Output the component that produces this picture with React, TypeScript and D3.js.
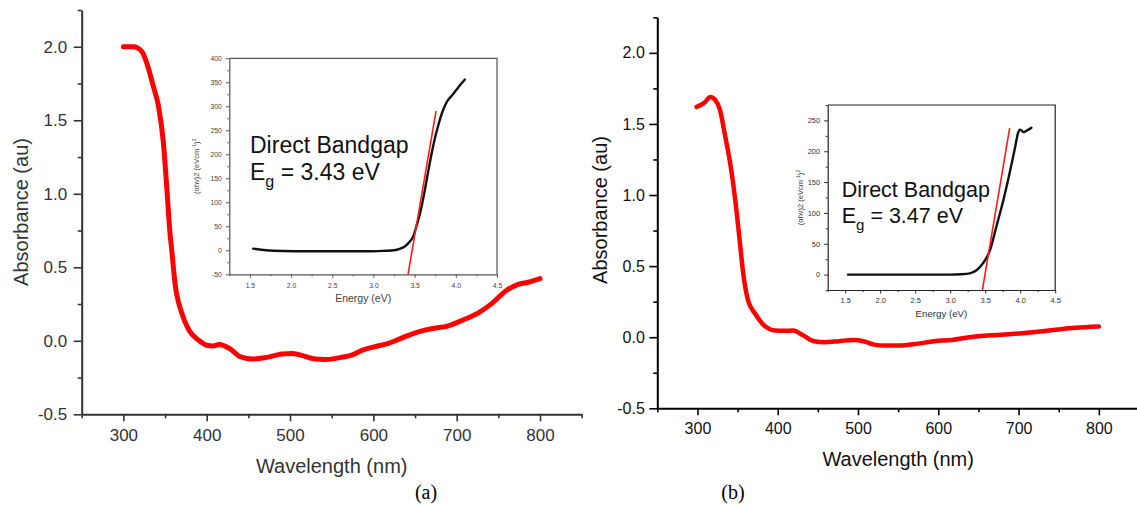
import { useEffect, useRef } from "react";
import * as d3 from "d3";

// ---- panel (a) main spectrum ----
const wavelengthA = [300, 312, 322, 328, 336, 342, 348, 352, 356, 358, 362, 370, 379, 390, 400, 408, 415, 428, 441, 455, 472, 490, 503, 517, 530, 543, 561, 574, 587, 601, 618, 636, 654, 672, 689, 707, 725, 742, 760, 773, 787, 800];
const absorbanceA = [2.0, 2.0, 1.97, 1.89, 1.73, 1.6, 1.35, 1.05, 0.73, 0.62, 0.39, 0.19, 0.07, 0.005, -0.03, -0.035, -0.025, -0.055, -0.11, -0.124, -0.113, -0.09, -0.086, -0.104, -0.124, -0.127, -0.113, -0.097, -0.063, -0.041, -0.018, 0.023, 0.061, 0.084, 0.1, 0.14, 0.186, 0.253, 0.344, 0.382, 0.4, 0.423];

// ---- panel (b) main spectrum ----
const wavelengthB = [299, 309, 316, 322, 328, 334, 340, 345, 349, 353, 357, 363, 372, 383, 397, 408, 419, 432, 445, 458, 476, 494, 507, 520, 533, 551, 573, 595, 617, 639, 661, 683, 705, 727, 749, 771, 800];
const absorbanceB = [1.62, 1.65, 1.69, 1.67, 1.6, 1.43, 1.25, 1.06, 0.87, 0.66, 0.45, 0.26, 0.165, 0.083, 0.047, 0.045, 0.047, 0.012, -0.028, -0.035, -0.028, -0.019, -0.028, -0.052, -0.059, -0.059, -0.047, -0.028, -0.019, 0.0, 0.012, 0.019, 0.028, 0.04, 0.054, 0.066, 0.075];

// ---- insets: Tauc plots ----
const energyA = [1.54, 1.7, 1.9, 2.2, 2.5, 2.8, 3.0, 3.15, 3.25, 3.32, 3.38, 3.43, 3.48, 3.53, 3.57, 3.62, 3.66, 3.71, 3.75, 3.79, 3.83, 3.89, 3.95, 4.01, 4.06, 4.11];
const taucA = [3.5, 0, -1.5, -2, -2, -2, -2, -1, 0, 3, 8, 16, 28, 55, 80, 122, 160, 205, 236, 262, 285, 309, 322, 335, 346, 356];
const fitEnergyA = [3.42, 3.76];
const fitTaucA = [-50, 290];

const energyB = [1.54, 2.0, 2.5, 3.0, 3.15, 3.28, 3.38, 3.47, 3.57, 3.66, 3.76, 3.85, 3.93, 3.97, 4.0, 4.05, 4.1, 4.16];
const taucB = [0, 0, 0, 0, 0.5, 2, 7.5, 18.5, 40, 78, 121, 165, 208, 230, 235, 231, 234, 238];
const fitEnergyB = [3.46, 3.85];
const fitTaucB = [-25, 238];

// ---- ticks ----
const wavelengthTicks = [300, 400, 500, 600, 700, 800];
const wavelengthMinor = [250, 350, 450, 550, 650, 750, 850];
const absTicks = [-0.5, 0, 0.5, 1.0, 1.5, 2.0];
const absMinor = [-0.25, 0.25, 0.75, 1.25, 1.75, 2.25];
const energyTicks = [1.5, 2.0, 2.5, 3.0, 3.5, 4.0, 4.5];
const energyMinor = [1.25, 1.75, 2.25, 2.75, 3.25, 3.75, 4.25];
const taucTicksA = [-50, 0, 50, 100, 150, 200, 250, 300, 350, 400];
const taucMinorA = [-25, 25, 75, 125, 175, 225, 275, 325, 375];
const taucTicksB = [0, 50, 100, 150, 200, 250];
const taucMinorB = [-25, 25, 75, 125, 175, 225, 275];

const SANS = "'Liberation Sans', Arial, sans-serif";

function axisPair(g, scale, orient, majors, minors, o) {
  const make = orient === "bottom" ? d3.axisBottom : d3.axisLeft;
  const minor = g
    .append("g")
    .call(make(scale).tickValues(minors).tickFormat(() => "").tickSize(o.minorSize).tickSizeOuter(0));
  minor.select(".domain").remove();
  const major = g
    .append("g")
    .call(make(scale).tickValues(majors).tickFormat(o.format).tickSize(o.majorSize).tickPadding(o.pad).tickSizeOuter(0));
  g.selectAll("line").attr("stroke", o.color).attr("stroke-width", o.tickWidth);
  major.select(".domain").attr("stroke", o.color).attr("stroke-width", o.lineWidth);
  major
    .selectAll("text")
    .attr("fill", o.textColor)
    .style("font-family", SANS)
    .style("font-size", o.fontSize + "px");
  return major;
}

function drawMain(svg, p) {
  const x = d3.scaleLinear([250, 850], p.xRange);
  const y = d3.scaleLinear([-0.5, 2.25], p.yRange);
  const fmt = (d) => d3.format(".1f")(d).replace("−", "-");

  const gx = svg.append("g").attr("transform", `translate(0,${p.yRange[0]})`);
  axisPair(gx, x, "bottom", wavelengthTicks, wavelengthMinor, {
    minorSize: 4, majorSize: 7, pad: p.xPad, format: d3.format("d"),
    color: p.axisColor, textColor: p.textColor, tickWidth: 1.6, lineWidth: 2, fontSize: p.tickFont,
  });
  const gy = svg.append("g").attr("transform", `translate(${p.xRange[0]},0)`);
  axisPair(gy, y, "left", absTicks, absMinor, {
    minorSize: 4, majorSize: 8, pad: p.yPad, format: fmt,
    color: p.axisColor, textColor: p.textColor, tickWidth: 1.6, lineWidth: 2, fontSize: p.tickFont,
  });

  const line = d3
    .line()
    .x((d) => x(d[0]))
    .y((d) => y(d[1]))
    .curve(d3.curveMonotoneX);
  svg
    .append("path")
    .datum(p.xs.map((v, i) => [v, p.ys[i]]))
    .attr("d", line)
    .attr("fill", "none")
    .attr("stroke", "#ff0000")
    .attr("stroke-width", p.lineWidth)
    .attr("stroke-linecap", "round")
    .attr("stroke-linejoin", "round");

  svg
    .append("text")
    .attr("x", (p.xRange[0] + p.xRange[1]) / 2)
    .attr("y", p.xTitleY)
    .attr("text-anchor", "middle")
    .attr("fill", p.textColor)
    .style("font-family", SANS)
    .style("font-size", "20px")
    .text("Wavelength (nm)");
  svg
    .append("text")
    .attr("transform", `translate(${p.yTitleX},${p.yTitleY}) rotate(-90)`)
    .attr("text-anchor", "middle")
    .attr("fill", p.textColor)
    .style("font-family", SANS)
    .style("font-size", "20px")
    .text("Absorbance (au)");
  svg
    .append("text")
    .attr("x", p.tagX)
    .attr("y", 499)
    .attr("text-anchor", "middle")
    .attr("fill", "#000")
    .style("font-family", "'Liberation Serif', 'Times New Roman', serif")
    .style("font-size", "20px")
    .text(p.tag);
}

function drawInset(svg, p) {
  const x = d3.scaleLinear([1.25, 4.5], p.xRange);
  const y = d3.scaleLinear(p.yDomain, p.yRange);

  // frame (top and right)
  svg
    .append("path")
    .attr("d", `M${p.xRange[0]},${p.yRange[1]}H${p.xRange[1]}V${p.yRange[0]}`)
    .attr("fill", "none")
    .attr("stroke", p.axisColor)
    .attr("stroke-width", 1.2);

  const gx = svg.append("g").attr("transform", `translate(0,${p.yRange[0]})`);
  axisPair(gx, x, "bottom", energyTicks, energyMinor, {
    minorSize: 2, majorSize: 3.5, pad: p.xPad, format: d3.format(".1f"),
    color: p.axisColor, textColor: p.textColor, tickWidth: 1, lineWidth: 1.2, fontSize: p.tickFont,
  });
  const gy = svg.append("g").attr("transform", `translate(${p.xRange[0]},0)`);
  axisPair(gy, y, "left", p.yTicks, p.yMinor, {
    minorSize: 2, majorSize: 3.5, pad: p.yPad, format: (d) => d3.format("d")(d).replace("−", "-"),
    color: p.axisColor, textColor: p.textColor, tickWidth: 1, lineWidth: 1.2, fontSize: p.tickFont,
  });

  const line = d3
    .line()
    .x((d) => x(d[0]))
    .y((d) => y(d[1]))
    .curve(d3.curveMonotoneX);
  svg
    .append("path")
    .datum(p.es.map((v, i) => [v, p.ts[i]]))
    .attr("d", line)
    .attr("fill", "none")
    .attr("stroke", "#111")
    .attr("stroke-width", 2.4)
    .attr("stroke-linecap", "round");
  svg
    .append("path")
    .datum(p.fitE.map((v, i) => [v, p.fitT[i]]))
    .attr("d", d3.line().x((d) => x(d[0])).y((d) => y(d[1])))
    .attr("fill", "none")
    .attr("stroke", "#ff1a1a")
    .attr("stroke-width", 1.6);

  svg
    .append("text")
    .attr("x", (p.xRange[0] + p.xRange[1]) / 2)
    .attr("y", p.eTitleY)
    .attr("text-anchor", "middle")
    .attr("fill", p.textColor)
    .style("font-family", SANS)
    .style("font-size", p.eTitleFont + "px")
    .text("Energy (eV)");

  const yl = svg
    .append("text")
    .attr("transform", `translate(${p.yTitleX},${(p.yRange[0] + p.yRange[1]) / 2}) rotate(-90)`)
    .attr("text-anchor", "middle")
    .attr("fill", p.textColor)
    .style("font-family", SANS)
    .style("font-size", p.yTitleFont + "px");
  yl.append("tspan").text("(αhν)2 (eVcm");
  yl.append("tspan").attr("baseline-shift", "super").style("font-size", "70%").text("-1");
  yl.append("tspan").text(")");
  yl.append("tspan").attr("baseline-shift", "super").style("font-size", "70%").text("2");

  const t1 = svg
    .append("text")
    .attr("x", p.labelX)
    .attr("y", p.labelY)
    .attr("fill", "#111")
    .style("font-family", SANS)
    .style("font-size", p.labelFont + "px");
  t1.text("Direct Bandgap");
  const t2 = svg
    .append("text")
    .attr("x", p.labelX)
    .attr("y", p.labelY + p.labelGap)
    .attr("fill", "#111")
    .style("font-family", SANS)
    .style("font-size", p.labelFont + "px");
  t2.append("tspan").text("E");
  t2.append("tspan").attr("dy", p.labelFont * 0.3).style("font-size", "70%").text("g");
  t2.append("tspan").attr("dy", -p.labelFont * 0.3).text(" = " + p.eg);
}

export default function App() {
  const ref = useRef(null);

  useEffect(() => {
    const svg = d3.select(ref.current);
    svg.selectAll("*").remove();

    drawMain(svg, {
      xs: wavelengthA, ys: absorbanceA,
      xRange: [81.7, 581.7], yRange: [414.3, 10],
      axisColor: "#333", textColor: "#333", tickFont: 17, xPad: 8, yPad: 6.5,
      lineWidth: 5, xTitleY: 473, yTitleX: 28, yTitleY: 212, tag: "(a)", tagX: 426,
    });
    drawMain(svg, {
      xs: wavelengthB, ys: absorbanceB,
      xRange: [657.3, 1139], yRange: [408.3, 17.3],
      axisColor: "#000", textColor: "#111", tickFont: 16, xPad: 7.5, yPad: 4.5,
      lineWidth: 4.5, xTitleY: 466, yTitleX: 607, yTitleY: 210, tag: "(b)", tagX: 733,
    });

    drawInset(svg, {
      es: energyA, ts: taucA, fitE: fitEnergyA, fitT: fitTaucA,
      xRange: [229.3, 497], yDomain: [-50, 400], yRange: [274.3, 58.3],
      yTicks: taucTicksA, yMinor: taucMinorA,
      axisColor: "#555", textColor: "#444", tickFont: 6.8, xPad: 5.5, yPad: 4,
      eTitleY: 302, eTitleFont: 10.5, yTitleX: 199, yTitleFont: 7.5,
      labelX: 250, labelY: 153, labelGap: 27, labelFont: 23, eg: "3.43 eV",
    });
    drawInset(svg, {
      es: energyB, ts: taucB, fitE: fitEnergyB, fitT: fitTaucB,
      xRange: [827.7, 1055.2], yDomain: [-25, 275], yRange: [290, 105],
      yTicks: taucTicksB, yMinor: taucMinorB,
      axisColor: "#222", textColor: "#333", tickFont: 7.5, xPad: 4.5, yPad: 4,
      eTitleY: 317, eTitleFont: 9.7, yTitleX: 803, yTitleFont: 7.5,
      labelX: 841.7, labelY: 196.7, labelGap: 26.6, labelFont: 21.5, eg: "3.47 eV",
    });
  }, []);

  return (
    <>
      <style>{`body{margin:0;background:#fff}`}</style>
      <svg ref={ref} width={1137} height={505} style={{ display: "block", background: "#fff" }} />
    </>
  );
}
